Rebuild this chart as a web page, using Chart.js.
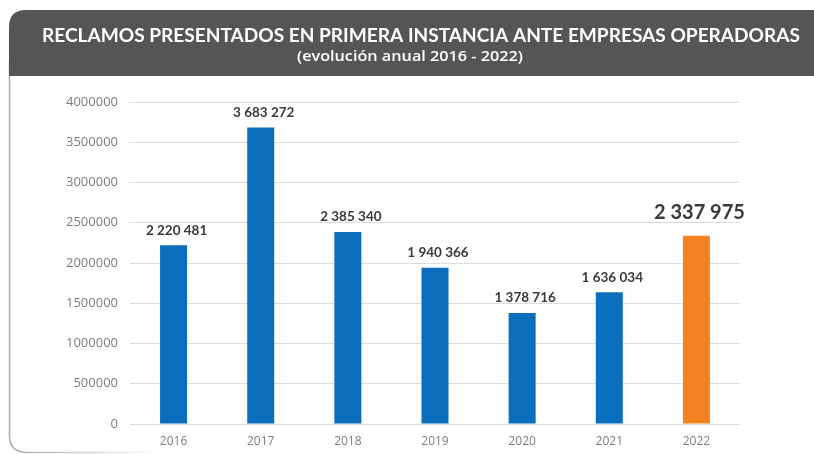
<!DOCTYPE html>
<html>
<head>
<meta charset="utf-8">
<script src="https://cdn.jsdelivr.net/npm/chart.js@4/dist/chart.umd.min.js"></script>
<style>
  html, body { margin: 0; padding: 0; background: #ffffff; }
  #wrap { position: relative; width: 814px; height: 454px; }
</style>
</head>
<body>
<div id="wrap"><canvas id="c" width="814" height="454"></canvas></div>
<script>
// Annual claims filed with operating companies, 2016-2022
const years = ['2016', '2017', '2018', '2019', '2020', '2021', '2022'];
const claims = [2220481, 3683272, 2385340, 1940366, 1378716, 1636034, 2337975];
const barColors = ['#0a6ebd', '#0a6ebd', '#0a6ebd', '#0a6ebd', '#0a6ebd', '#0a6ebd', '#f58220'];
const yTicks = [0, 500000, 1000000, 1500000, 2000000, 2500000, 3000000, 3500000, 4000000];
const titleText = 'RECLAMOS PRESENTADOS EN PRIMERA INSTANCIA ANTE EMPRESAS OPERADORAS';
const subtitleText = '(evolución anual 2016 - 2022)';

// Group thousands with spaces: 2220481 -> "2 220 481"
function spaced(n) {
  return String(n).replace(/\B(?=(\d{3})+(?!\d))/g, ' ');
}

// Draw text centred at (cx, cy), squeezed horizontally to the given width
function fitText(ctx, text, cx, cy, width) {
  const w = ctx.measureText(text).width;
  ctx.save();
  ctx.translate(cx, cy);
  ctx.scale(width / w, 1);
  ctx.fillText(text, 0, 0);
  ctx.restore();
}

// Dark header band and the rounded frame around the panel
const framePlugin = {
  id: 'frame',
  beforeDraw(chart) {
    const ctx = chart.ctx;
    ctx.save();
    // panel frame: left edge and rounded bottom-left corner, fading out to the right
    const grad = ctx.createLinearGradient(10, 0, 160, 0);
    grad.addColorStop(0, 'rgba(170,170,170,1)');
    grad.addColorStop(1, 'rgba(170,170,170,0)');
    ctx.strokeStyle = grad;
    ctx.lineWidth = 1.5;
    ctx.beginPath();
    ctx.moveTo(9.5, 60);
    ctx.lineTo(9.5, 436);
    ctx.quadraticCurveTo(9.5, 452.5, 28, 452.5);
    ctx.lineTo(160, 452.5);
    ctx.stroke();
    // header band
    const x0 = 9, y0 = 10, y1 = 76, r = 17;
    ctx.fillStyle = '#555555';
    ctx.beginPath();
    ctx.moveTo(x0, y1);
    ctx.lineTo(x0, y0 + r);
    ctx.quadraticCurveTo(x0, y0, x0 + r, y0);
    ctx.lineTo(814, y0);
    ctx.lineTo(814, y1);
    ctx.closePath();
    ctx.fill();
    // title and subtitle
    ctx.fillStyle = '#ffffff';
    ctx.textAlign = 'center';
    ctx.textBaseline = 'middle';
    ctx.font = 'bold 19px Lato, "Open Sans", sans-serif';
    fitText(ctx, titleText, 421, 36, 758);
    ctx.font = '600 15px "Open Sans", Lato, sans-serif';
    fitText(ctx, subtitleText, 410, 57, 226);
    ctx.restore();
  }
};

// Value labels above each bar; the last year is emphasised
const valueLabels = {
  id: 'valueLabels',
  afterDatasetsDraw(chart) {
    const ctx = chart.ctx;
    const meta = chart.getDatasetMeta(0);
    const data = chart.data.datasets[0].data;
    ctx.save();
    ctx.fillStyle = '#3a3a3a';
    ctx.textAlign = 'center';
    ctx.textBaseline = 'middle';
    meta.data.forEach((bar, i) => {
      const last = i === data.length - 1;
      ctx.font = last ? 'bold 20px Lato, "Open Sans", sans-serif'
                      : 'bold 13.5px Lato, "Open Sans", sans-serif';
      ctx.fillText(spaced(data[i]), bar.x + 3, bar.y - (last ? 23 : 15));
    });
    ctx.restore();
  }
};

new Chart(document.getElementById('c'), {
  type: 'bar',
  data: {
    labels: years,
    datasets: [{
      data: claims,
      backgroundColor: barColors,
      borderWidth: 0,
      barPercentage: 0.31,
      categoryPercentage: 1.0
    }]
  },
  options: {
    responsive: false,
    animation: false,
    events: [],
    layout: { padding: { left: 0, top: 102, right: 74, bottom: 0 } },
    plugins: {
      legend: { display: false },
      tooltip: { enabled: false },
      title: { display: false }
    },
    scales: {
      x: {
        grid: { display: false },
        border: { display: false },
        ticks: {
          color: '#7d7d7d',
          font: { family: '"Open Sans", "Liberation Sans", sans-serif', size: 12 },
          padding: 2
        },
        afterFit(scale) { scale.height = 30; }
      },
      y: {
        min: 0,
        max: 4000000,
        afterBuildTicks(scale) { scale.ticks = yTicks.map(v => ({ value: v })); },
        grid: { color: '#dcdcdc', lineWidth: 1, drawTicks: false },
        border: { display: false },
        ticks: {
          color: '#7d7d7d',
          font: { family: '"Open Sans", "Liberation Sans", sans-serif', size: 13 },
          padding: 12,
          callback: v => String(v)
        },
        afterFit(scale) { scale.width = 130; }
      }
    }
  },
  plugins: [framePlugin, valueLabels]
});
</script>
</body>
</html>
